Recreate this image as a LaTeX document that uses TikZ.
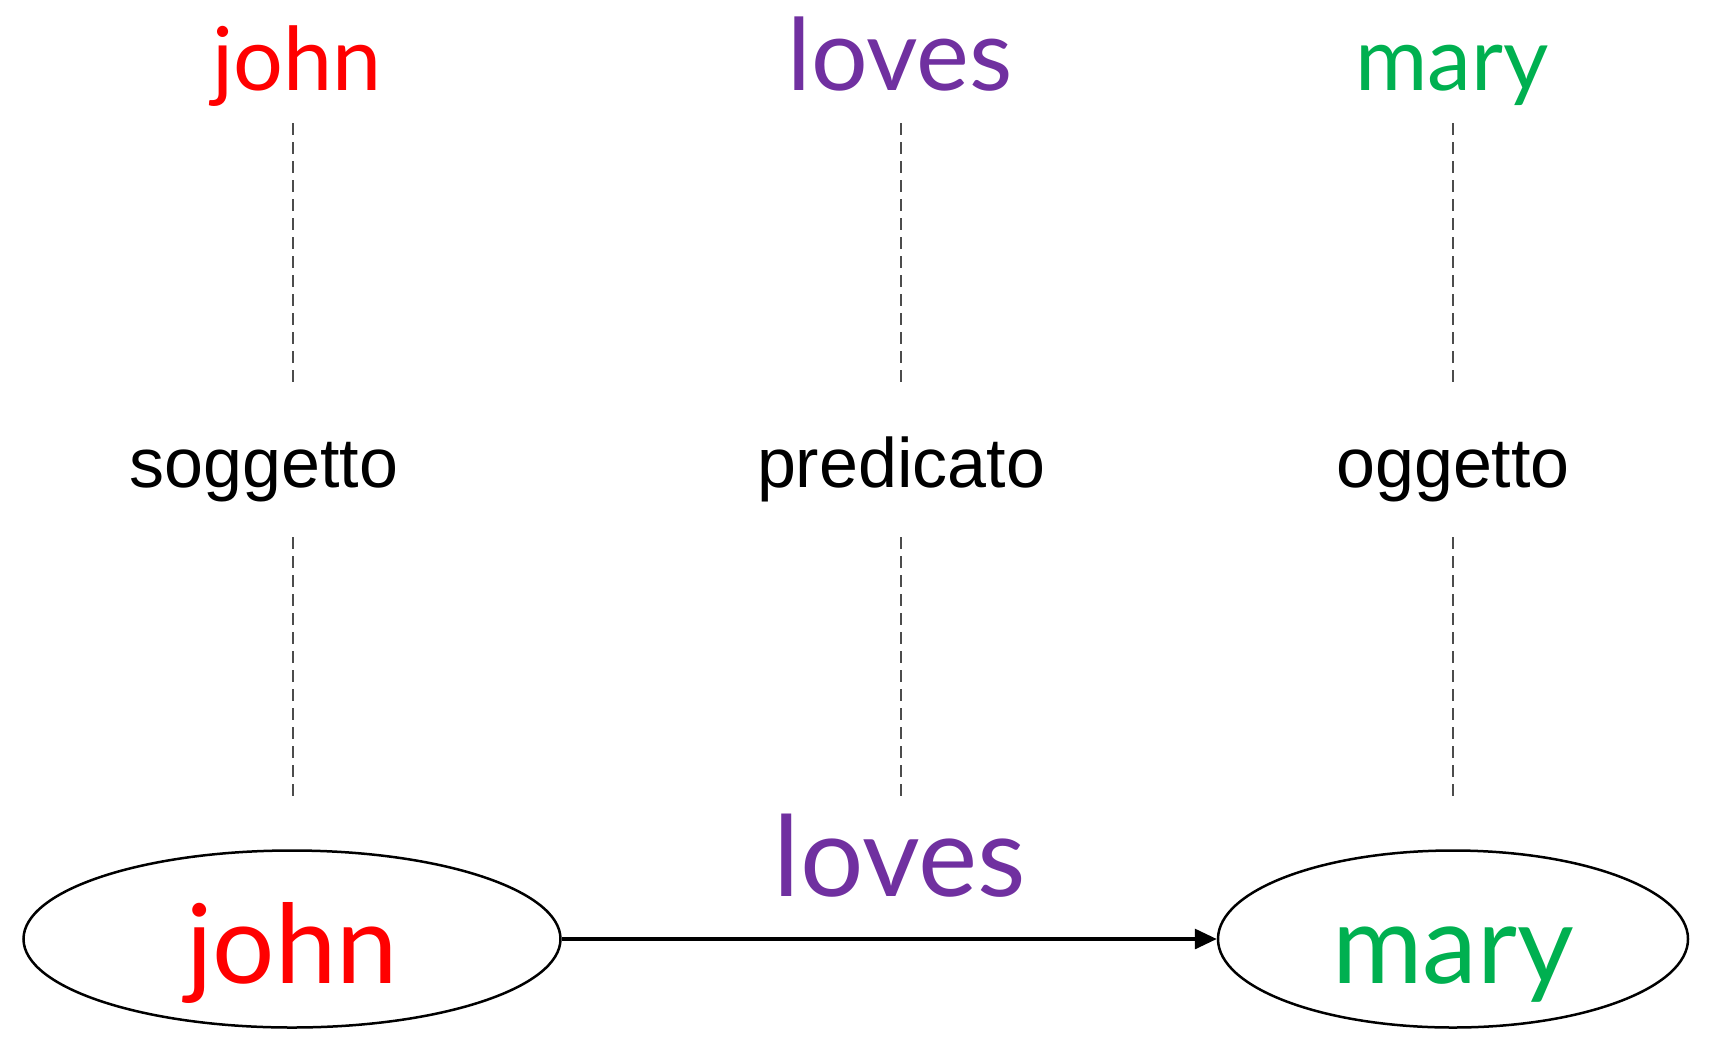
\documentclass[tikz,border=0pt]{standalone}
\usepackage{fontspec}
\setmainfont{Liberation Sans}
\newfontfamily\gill{Lato}
\usetikzlibrary{arrows.meta,shapes.geometric}
\definecolor{jred}{RGB}{255,0,0}
\definecolor{lpurple}{RGB}{112,48,160}
\definecolor{mgreen}{RGB}{0,176,80}
\begin{document}
\begin{tikzpicture}[x=1pt,y=-1pt,
  word/.style={inner sep=0pt, anchor=base, font=\gill\fontsize{#1}{#1}\selectfont},
  role/.style={inner sep=0pt, anchor=base, font=\fontsize{70}{70}\selectfont},
  link/.style={dash pattern=on 12pt off 7pt, line width=2pt, draw=black!70},
  ent/.style={draw, ellipse, line width=2.5pt, inner sep=0pt, text height=88pt, text depth=0pt,
              font=\gill\fontsize{110}{110}\selectfont},
  arr/.style={line width=3.2pt, -{Triangle[length=22pt,width=20pt]}}]
\useasboundingbox (0,0) rectangle (1712,1060);
% top words
\node[word=88, text=jred] (tj) at (297,90) {john};
\node[word=100, text=lpurple] (tl) at (900,90) {loves};
\node[word=88, text=mgreen] (tm) at (1452,90) {mary};
% roles
\node[role] (rs) at (264,487) {soggetto};
\node[role] (rp) at (901,487) {predicato};
\node[role] (ro) at (1453,487) {oggetto};
% entities
\node[ent, minimum width=537pt, minimum height=177pt, text=jred] (ej) at (292,939) {john};
\node[ent, minimum width=470pt, minimum height=177pt, text=mgreen] (em) at (1453,939) {mary};
\node[word=112, text=lpurple] (el) at (900,896) {loves};
% dashed coordinates
\coordinate (a1) at (293,123); \coordinate (a2) at (293,388);
\coordinate (a3) at (293,537); \coordinate (a4) at (293,802);
\coordinate (b1) at (901,123); \coordinate (b2) at (901,388);
\coordinate (b3) at (901,537); \coordinate (b4) at (901,802);
\coordinate (c1) at (1453,123); \coordinate (c2) at (1453,388);
\coordinate (c3) at (1453,537); \coordinate (c4) at (1453,802);
\draw[link] (a1) -- (a2); \draw[link] (a3) -- (a4);
\draw[link] (b1) -- (b2); \draw[link] (b3) -- (b4);
\draw[link] (c1) -- (c2); \draw[link] (c3) -- (c4);
% relation arrow
\draw[arr] (ej) -- (em);
\end{tikzpicture}
\end{document}
